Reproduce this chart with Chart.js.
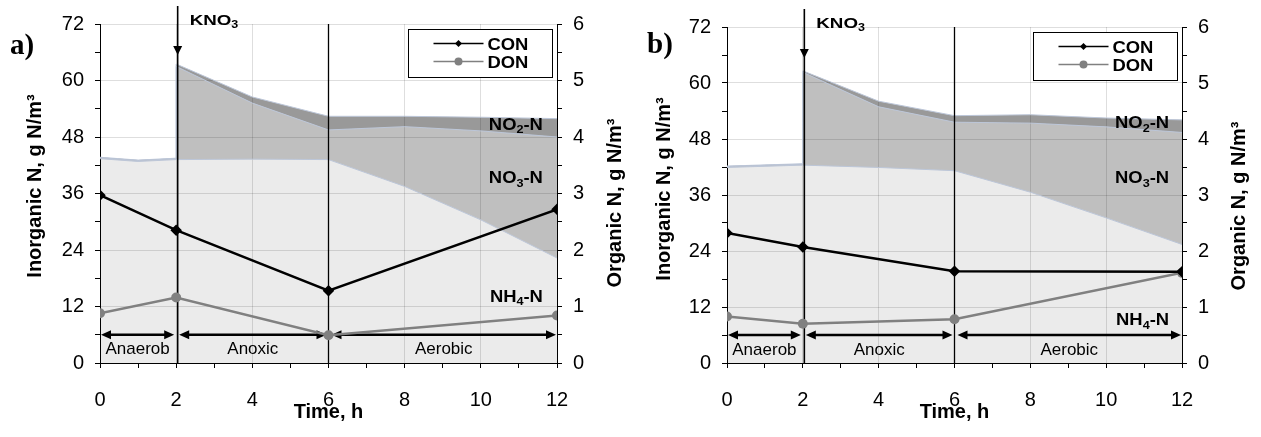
<!DOCTYPE html>
<html>
<head>
<meta charset="utf-8">
<script src="https://cdn.jsdelivr.net/npm/chart.js@4.4.1/dist/chart.umd.min.js"></script>
<style>
html, body { margin: 0; padding: 0; background: #fff; }
#wrap { display: flex; width: 1261px; height: 437px; }
canvas { display: block; }
</style>
</head>
<body>
<div id="wrap">
  <canvas id="chartA" width="630" height="437"></canvas>
  <canvas id="chartB" width="631" height="437"></canvas>
</div>
<script>
// ---- panel a) ----
const timesA = [0, 1, 2, 2, 4, 6, 8, 10, 12];
const nh4A = [43.4, 42.8, 43.2, 43.2, 43.3, 43.2, 37.5, 30.4, 22.3];
const no3A = [0.2, 0.2, 0.2, 19.8, 11.9, 6.3, 12.7, 18.9, 25.7];
const no2A = [0.1, 0.1, 0.1, 0.5, 1.3, 2.9, 2.2, 2.9, 3.9];

// ---- panel b) ----
const timesB = [0, 2, 2, 4, 6, 8, 10, 12];
const nh4B = [41.9, 42.4, 42.4, 41.9, 41.2, 36.6, 31.1, 25.4];
const no3B = [0.2, 0.2, 19.9, 13.0, 10.4, 14.8, 19.5, 24.0];
const no2B = [0.1, 0.1, 0.3, 1.2, 1.4, 1.8, 1.9, 2.7];

// organic N, sampled at these times (right axis)
const sampleTimes = [0, 2, 6, 12];
const conA = [2.97, 2.35, 1.28, 2.72];
const donA = [0.88, 1.16, 0.49, 0.84];
const conB = [2.32, 2.07, 1.64, 1.63];
const donB = [0.83, 0.70, 0.78, 1.61];

const phaseLabels = ['Anaerob', 'Anoxic', 'Aerobic'];
const phaseBounds = [0, 2, 6, 12];
const phaseArrowLevel = 6;
const xTickLabels = [0, 2, 4, 6, 8, 10, 12];
const leftTickLabels = [0, 12, 24, 36, 48, 60, 72];
const rightTickLabels = [0, 1, 2, 3, 4, 5, 6];

const FONT = "'Liberation Sans', Arial, sans-serif";
Chart.defaults.font.family = FONT;
Chart.defaults.color = '#000';

const gridColor = 'rgba(0,0,0,0.13)';

function cumulate(...parts) {
    return parts[0].map((_, i) => parts.reduce((s, p) => s + p[i], 0));
}

function pts(times, vals) {
    return times.map((t, i) => ({ x: t, y: vals[i] }));
}

// text with sub/superscript pieces: segs = [[text, 'n'|'sub'|'sup'], ...]
function drawRich(ctx, segs, x, y, size, align, sx, weight) {
    weight = weight || 'bold';
    const fontOf = k => `${weight} ${k === 'n' ? size : Math.round(size * 0.68)}px ${FONT}`;
    let w = 0;
    segs.forEach(([t, k]) => { ctx.font = fontOf(k); w += ctx.measureText(t).width; });
    ctx.save();
    ctx.translate(x, y);
    ctx.scale(sx, 1);
    ctx.fillStyle = '#000';
    ctx.textAlign = 'left';
    ctx.textBaseline = 'alphabetic';
    let cx = align === 'right' ? -w : (align === 'center' ? -w / 2 : 0);
    segs.forEach(([t, k]) => {
        ctx.font = fontOf(k);
        const dy = k === 'sub' ? size * 0.22 : (k === 'sup' ? -size * 0.45 : 0);
        ctx.fillText(t, cx, dy);
        cx += ctx.measureText(t).width;
    });
    ctx.restore();
}

function arrowHead(ctx, x, y, dir, len, half) {
    // dir: 'left' | 'right' | 'down'
    ctx.beginPath();
    if (dir === 'down') {
        ctx.moveTo(x, y);
        ctx.lineTo(x - half, y - len);
        ctx.lineTo(x + half, y - len);
    } else {
        const s = dir === 'right' ? -1 : 1;
        ctx.moveTo(x, y);
        ctx.lineTo(x + s * len, y - half);
        ctx.lineTo(x + s * len, y + half);
    }
    ctx.closePath();
    ctx.fill();
}

function rotatedTitle(ctx, text, x, y) {
    ctx.save();
    ctx.translate(x, y);
    ctx.rotate(-Math.PI / 2);
    ctx.font = `bold 20px ${FONT}`;
    ctx.fillStyle = '#000';
    ctx.textAlign = 'center';
    ctx.textBaseline = 'middle';
    ctx.fillText(text, 0, 0);
    ctx.restore();
}

function panelPlugin(p) {
    return {
        id: 'panel_' + p.id,
        beforeDatasetDraw(chart, args) {
            // lines and phase arrows go under the CON / DON series
            if (args.index !== 4) return;
            const { ctx, chartArea: ca, scales: { x, y } } = chart;
            ctx.save();
            ctx.strokeStyle = '#000';
            ctx.fillStyle = '#000';

            const xk = x.getPixelForValue(phaseBounds[1]) + 1.5;
            ctx.lineWidth = 1.6;
            ctx.beginPath();
            ctx.moveTo(xk, ca.top - 18);
            ctx.lineTo(xk, ca.bottom);
            ctx.stroke();
            arrowHead(ctx, xk, ca.top + 31, 'down', 9, 4.5);

            const x6 = x.getPixelForValue(phaseBounds[2]);
            ctx.lineWidth = 1.3;
            ctx.beginPath();
            ctx.moveTo(x6, ca.top);
            ctx.lineTo(x6, ca.bottom);
            ctx.stroke();

            const ya = y.getPixelForValue(phaseArrowLevel);
            ctx.lineWidth = 2.5;
            for (let i = 0; i < phaseLabels.length; i++) {
                const x0 = x.getPixelForValue(phaseBounds[i]) + (i === 0 ? 1 : 3);
                const x1 = x.getPixelForValue(phaseBounds[i + 1]) - (i === phaseLabels.length - 1 ? 1 : 2);
                ctx.beginPath();
                ctx.moveTo(x0 + 6, ya);
                ctx.lineTo(x1 - 6, ya);
                ctx.stroke();
                arrowHead(ctx, x0, ya, 'left', 10, 4.5);
                arrowHead(ctx, x1, ya, 'right', 10, 4.5);
                ctx.font = `17px ${FONT}`;
                ctx.textAlign = 'center';
                ctx.textBaseline = 'middle';
                ctx.fillText(phaseLabels[i], (x0 + x1) / 2, ya + 15);
            }
            ctx.restore();
        },
        afterDraw(chart) {
            const { ctx, chartArea: ca, scales: { x, y } } = chart;
            const xk = x.getPixelForValue(phaseBounds[1]) + 1.5;

            drawRich(ctx, [['KNO', 'n'], ['3', 'sub']], xk + 12, ca.top + 1, 15, 'left', 1.25);

            // region labels
            const lx = x.getPixelForValue(p.labelX);
            const base = v => y.getPixelForValue(v) + 6;
            drawRich(ctx, [['NO', 'n'], ['2', 'sub'], ['-N', 'n']], lx, base(p.no2Y), 16, 'right', 1.15);
            drawRich(ctx, [['NO', 'n'], ['3', 'sub'], ['-N', 'n']], lx, base(p.no3Y), 16, 'right', 1.15);
            drawRich(ctx, [['NH', 'n'], ['4', 'sub'], ['-N', 'n']], lx, base(p.nh4Y), 16, 'right', 1.15);

            // legend
            const bw = 144, bh = 48;
            const bl = Math.round(ca.right - 5 - bw) + 0.5, bt = Math.round(ca.top + 5) + 0.5;
            ctx.save();
            ctx.fillStyle = '#fff';
            ctx.fillRect(bl, bt, bw, bh);
            ctx.strokeStyle = '#000';
            ctx.lineWidth = 1;
            ctx.strokeRect(bl, bt, bw, bh);
            const entries = chart.data.datasets.slice(3);
            entries.forEach((ds, i) => {
                const ey = bt + 14 + i * 18;
                ctx.strokeStyle = ds.borderColor;
                ctx.fillStyle = ds.borderColor;
                ctx.lineWidth = 1.5;
                ctx.beginPath();
                ctx.moveTo(bl + 25, ey);
                ctx.lineTo(bl + 75, ey);
                ctx.stroke();
                const mx = bl + 50;
                ctx.beginPath();
                if (ds.pointStyle === 'rectRot') {
                    ctx.moveTo(mx, ey - 3.5); ctx.lineTo(mx + 3.5, ey);
                    ctx.lineTo(mx, ey + 3.5); ctx.lineTo(mx - 3.5, ey);
                } else {
                    ctx.arc(mx, ey, 4, 0, Math.PI * 2);
                }
                ctx.closePath();
                ctx.fill();
                drawRich(ctx, [[ds.label, 'n']], bl + 79, ey + 6, 16, 'left', 1.15);
            });
            ctx.restore();

            // axis titles
            rotatedTitle(ctx, 'Inorganic N, g N/m³', p.leftTitle[0], p.leftTitle[1]);
            rotatedTitle(ctx, 'Organic N, g N/m³', p.rightTitle[0], p.rightTitle[1]);

            // panel tag
            ctx.save();
            ctx.font = `bold 29px 'Liberation Serif', 'Times New Roman', serif`;
            ctx.fillStyle = '#000';
            ctx.textAlign = 'left';
            ctx.textBaseline = 'middle';
            ctx.fillText(p.tag, p.tagPos[0], p.tagPos[1]);
            ctx.restore();
        }
    };
}

function makeChart(canvasId, p, times, nh4, no3, no2, con, don) {
    const top1 = nh4;
    const top2 = cumulate(nh4, no3);
    const top3 = cumulate(nh4, no3, no2);
    const area = (label, vals, color, fill) => ({
        label: label,
        data: pts(times, vals),
        yAxisID: 'y',
        borderColor: '#bcc6d8',
        borderWidth: 1,
        backgroundColor: color,
        fill: fill,
        pointRadius: 0,
        tension: 0,
        order: 2
    });
    const tickFont = { size: 20 };
    return new Chart(document.getElementById(canvasId), {
        type: 'line',
        data: {
            datasets: [
                area('NH4-N', top1, 'rgba(0,0,0,0.08)', 'origin'),
                area('NO3-N', top2, 'rgba(0,0,0,0.25)', '-1'),
                area('NO2-N', top3, 'rgba(0,0,0,0.40)', '-1'),
                {
                    label: 'CON',
                    data: pts(sampleTimes, con),
                    yAxisID: 'y2',
                    borderColor: '#000',
                    backgroundColor: '#000',
                    borderWidth: 2.5,
                    pointStyle: 'rectRot',
                    pointRadius: 4,
                    fill: false,
                    tension: 0,
                    order: 0
                },
                {
                    label: 'DON',
                    data: pts(sampleTimes, don),
                    yAxisID: 'y2',
                    borderColor: '#808080',
                    backgroundColor: '#808080',
                    borderWidth: 2.5,
                    pointStyle: 'circle',
                    pointRadius: 5,
                    pointBorderWidth: 0,
                    fill: false,
                    tension: 0,
                    order: 1
                }
            ]
        },
        options: {
            responsive: false,
            animation: false,
            events: [],
            layout: { padding: { top: p.top, left: 0, right: 0, bottom: 0 } },
            plugins: { legend: { display: false }, tooltip: { enabled: false } },
            scales: {
                x: {
                    type: 'linear',
                    min: 0, max: 12,
                    afterFit: s => { s.height = 437 - p.bottom; },
                    ticks: {
                        stepSize: 1, autoSkip: false, maxRotation: 0, padding: 20, font: tickFont,
                        callback: v => xTickLabels.includes(v) ? String(v) : ''
                    },
                    grid: {
                        color: c => (c.tick && xTickLabels.includes(c.tick.value)) ? gridColor : 'rgba(0,0,0,0)',
                        tickColor: '#000', tickLength: 5
                    },
                    border: { color: '#000', width: 1 },
                    title: { display: true, text: 'Time, h', font: { size: 20, weight: 'bold' }, padding: { top: 0, bottom: 13 } }
                },
                y: {
                    position: 'left',
                    min: 0, max: 72,
                    afterFit: s => { s.width = p.left; },
                    ticks: {
                        stepSize: 6, autoSkip: false, padding: 11, font: tickFont,
                        callback: v => leftTickLabels.includes(v) ? String(v) : ''
                    },
                    grid: {
                        color: c => (c.tick && leftTickLabels.includes(c.tick.value)) ? gridColor : 'rgba(0,0,0,0)',
                        tickColor: '#000', tickLength: 5
                    },
                    border: { color: '#000', width: 1 }
                },
                y2: {
                    position: 'right',
                    min: 0, max: 6,
                    afterFit: s => { s.width = p.right; },
                    ticks: {
                        stepSize: 0.5, autoSkip: false, padding: 11, font: tickFont,
                        callback: v => rightTickLabels.includes(v) ? String(v) : ''
                    },
                    grid: { drawOnChartArea: false, tickColor: '#000', tickLength: 5 },
                    border: { color: '#000', width: 1 }
                }
            }
        },
        plugins: [panelPlugin(p)]
    });
}

makeChart('chartA', {
    id: 'a', tag: 'a)', tagPos: [10, 47],
    top: 24, bottom: 363, left: 100, right: 73,
    labelX: 11.63, no2Y: 50.8, no3Y: 39.4, nh4Y: 14.3,
    leftTitle: [35, 186], rightTitle: [615, 203]
}, timesA, nh4A, no3A, no2A, conA, donA);

makeChart('chartB', {
    id: 'b', tag: 'b)', tagPos: [17, 46],
    top: 27, bottom: 363, left: 97, right: 79,
    labelX: 11.66, no2Y: 51.6, no3Y: 39.8, nh4Y: 9.4,
    leftTitle: [34, 189], rightTitle: [609, 206]
}, timesB, nh4B, no3B, no2B, conB, donB);
</script>
</body>
</html>
